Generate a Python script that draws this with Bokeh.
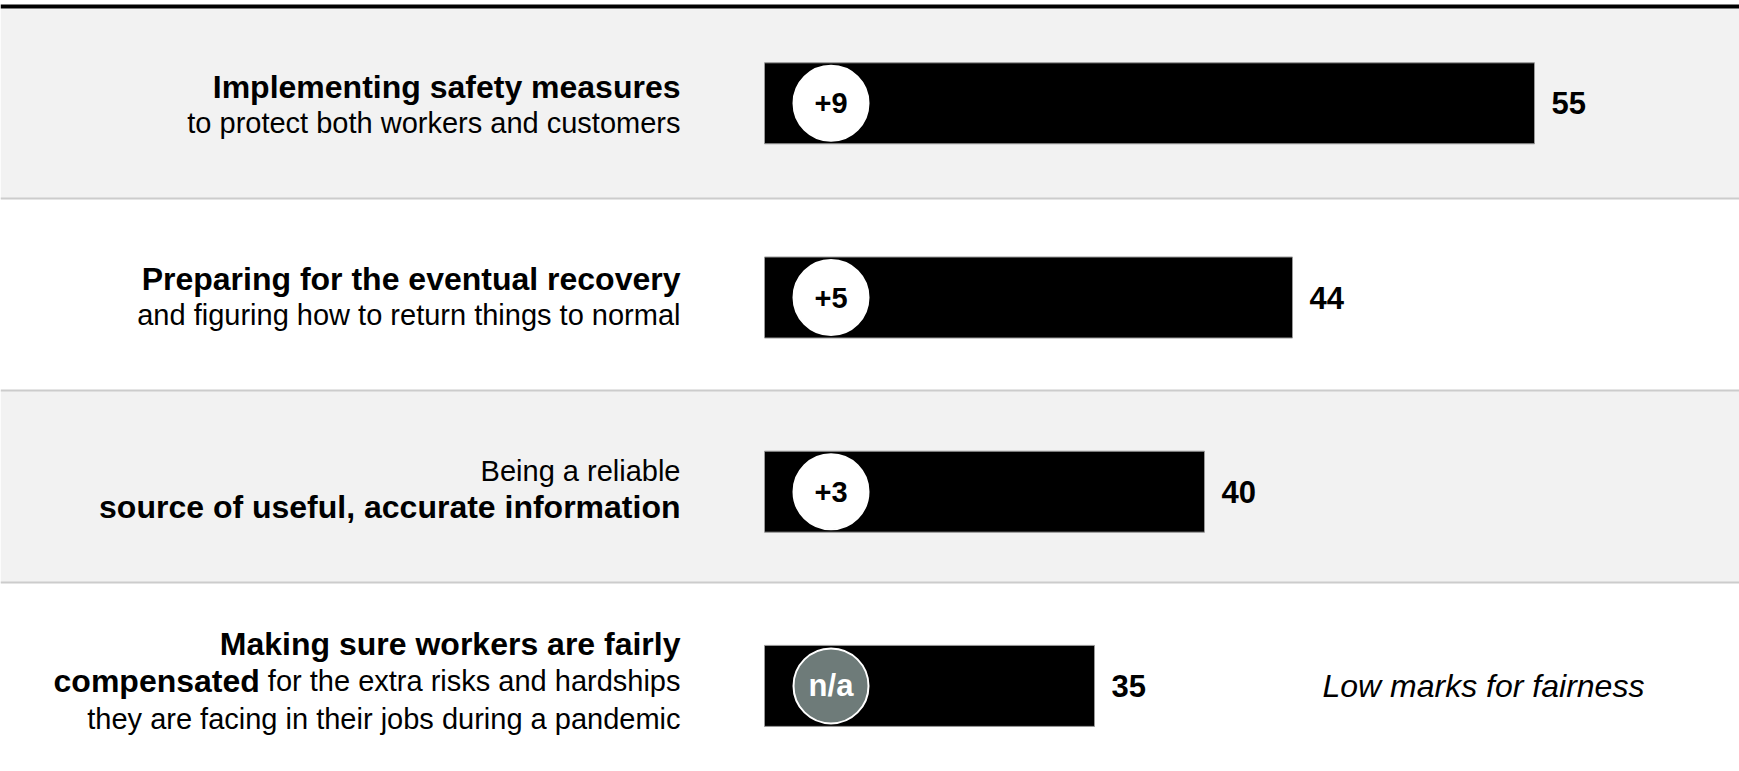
from bokeh.plotting import figure
from bokeh.models import Range1d
from bokeh.core.properties import value
from bokeh.embed import file_html
from bokeh.resources import INLINE

# ---------------- data ----------------
measures = [
    "Implementing safety measures",
    "Preparing for the eventual recovery",
    "Being a reliable source of useful, accurate information",
    "Making sure workers are fairly compensated",
]
scores = [55, 44, 40, 35]
changes = ["+9", "+5", "+3", "n/a"]

# label lines, each line a list of (text, weight) segments
label_lines = [
    [[("Implementing safety measures", "bold")],
     [("to protect both workers and customers", "normal")]],
    [[("Preparing for the eventual recovery", "bold")],
     [("and figuring how to return things to normal", "normal")]],
    [[("Being a reliable", "normal")],
     [("source of useful, accurate information", "bold")]],
    [[("Making sure workers are fairly", "bold")],
     [("compensated", "bold"), (" for the extra risks and hardships", "normal")],
     [("they are facing in their jobs during a pandemic", "normal")]],
]
note_text = "Low marks for fairness"
note_row = 3
axis_start = 20

# ---------------- layout / style ----------------
FONT = "Liberation Sans"
W, H = 1739, 771
PX0, PY0 = 0, 0            # page offset of the figure
ZERO_PX = 324              # page x of value 0
PX_PER_UNIT = 22
LABEL_RIGHT_PX = 680
CIRCLE_PX = 830.5
NOTE_LEFT_PX = 1322
BOLD_SIZE, REG_SIZE = 32, 29

def vx(page_x):
    return (page_x - ZERO_PX) / PX_PER_UNIT

# Arial / Liberation Sans advance widths (per 1000 em)
REG_W = dict(zip("abcdefghijklmnopqrstuvwxyz", [556,556,500,556,556,278,556,556,222,222,500,222,833,556,556,556,556,333,500,278,556,500,722,500,500,500]))
BOLD_W = dict(zip("abcdefghijklmnopqrstuvwxyz", [556,611,556,611,556,333,611,611,278,278,556,278,889,611,611,611,611,389,556,333,611,556,778,556,556,500]))
for d in (REG_W, BOLD_W):
    d[" "] = 278; d[","] = 278; d["."] = 278

def text_width(s, weight):
    table = BOLD_W if weight == "bold" else REG_W
    size = BOLD_SIZE if weight == "bold" else REG_SIZE
    return sum(table.get(c, 556) for c in s) / 1000 * size

band_edges = [8, 198.3, 390.3, 582.3, 780]
band_colors = ["#f2f2f2", "#ffffff", "#f2f2f2", "#ffffff"]
band_centers = [103 + 192 * i for i in range(4)]
bar_centers = [102.8 + 194.2 * i for i in range(4)]
LINE_GAP = {2: 35.5, 3: 37.5}
BASE_SHIFT = 1.5

p = figure(width=W, height=H, output_backend="svg", toolbar_location=None,
           x_range=Range1d(vx(PX0), vx(PX0 + W)),
           y_range=Range1d(PY0 + H, PY0),
           x_axis_location=None, y_axis_location=None,
           min_border=0, outline_line_color=None,
           background_fill_color="white", border_fill_color="white")
p.grid.visible = False

# bands
p.quad(left=vx(0), right=vx(1800), top=band_edges[:-1], bottom=band_edges[1:],
       fill_color=band_colors, line_color=None)
p.hspan(y=band_edges[1:4], line_color="#cccccc", line_width=2)
p.hspan(y=[6], line_color="black", line_width=4)

# bars
p.hbar(y=bar_centers, left=axis_start, right=scores, height=81,
       fill_color="black", line_color="#999999", line_width=1)

# change circles
circ_fill = ["#6e7b79" if c == "n/a" else "white" for c in changes]
circ_text = ["white" if c == "n/a" else "black" for c in changes]
circ_size = ["31px" if c == "n/a" else "29px" for c in changes]
p.scatter(x=[vx(CIRCLE_PX)] * 4, y=bar_centers, size=75, marker="circle",
          fill_color=circ_fill, line_color="white", line_width=2)
p.text(x=[vx(CIRCLE_PX)] * 4, y=bar_centers, text=changes, text_color=circ_text,
       text_font=value(FONT), text_font_style="bold", text_font_size=circ_size,
       text_align="center", text_baseline="middle")

# value labels
p.text(x=scores, y=bar_centers, text=[str(s) for s in scores], x_offset=17,
       text_font=value(FONT), text_font_style="bold", text_font_size="31px",
       text_align="left", text_baseline="middle", text_color="black")

# category labels
for i, lines in enumerate(label_lines):
    n = len(lines)
    for k, segs in enumerate(lines):
        base = band_centers[i] + BASE_SHIFT + (k - (n - 1) / 2) * LINE_GAP[n]
        right = LABEL_RIGHT_PX
        for txt, weight in reversed(segs):
            p.text(x=[vx(right)], y=[base], text=[txt.strip()],
                   text_font=value(FONT), text_font_style=weight,
                   text_font_size=f"{BOLD_SIZE if weight == 'bold' else REG_SIZE}px",
                   text_align="right", text_baseline="alphabetic", text_color="black")
            right -= text_width(txt, weight)

# note
p.text(x=[vx(NOTE_LEFT_PX)], y=[bar_centers[note_row]], text=[note_text],
       text_font=value(FONT), text_font_style="italic", text_font_size="32px",
       text_align="left", text_baseline="middle", text_color="black")

open("out.html", "w").write(file_html(p, INLINE))
